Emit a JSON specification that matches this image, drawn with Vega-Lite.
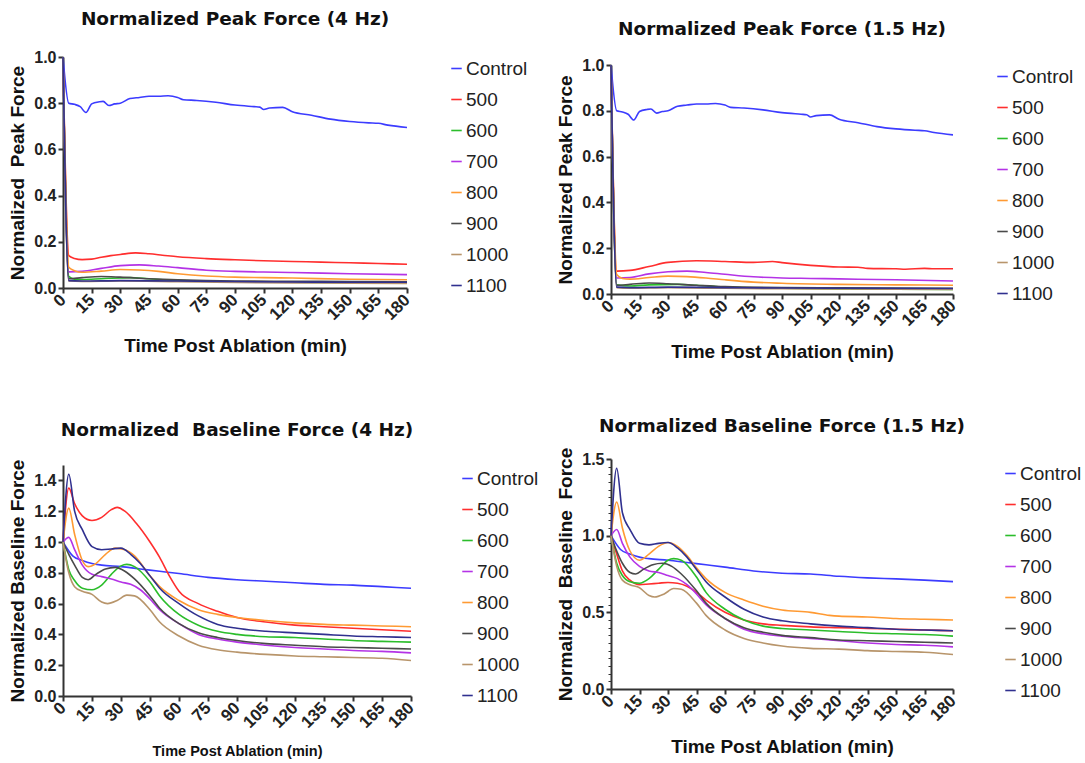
{
"$schema": "https://vega.github.io/schema/vega-lite/v6.json",
"padding": {"left": 8, "top": 2, "right": 0, "bottom": 0},
"config": {
 "view": {"stroke": null},
 "font": "Liberation Sans",
 "axis": {"grid": false, "domainColor": "#333", "domainWidth": 2, "tickColor": "#333", "tickWidth": 2, "tickSize": 5, "labelFont": "Liberation Sans", "labelFontWeight": "bold", "labelFontSize": 16, "labelColor": "#222", "labelPadding": 2, "titleFont": "Liberation Sans", "titleFontSize": 19, "titleFontWeight": "bold", "titleColor": "#111", "labelOverlap": false, "labelFlush": false},
 "axisX": {"labelAngle": -45, "labelAlign": "right", "labelBaseline": "middle", "labelPadding": 4, "labelFontSize": 17, "titlePadding": 14},
 "axisY": {"titlePadding": 6},
 "legend": {"title": null, "symbolType": "stroke", "symbolStrokeWidth": 2, "symbolSize": 110, "labelFontSize": 19, "labelFont": "Liberation Sans", "labelColor": "#222", "rowPadding": 11, "labelOffset": 0, "padding": 0},
 "title": {"font": "DejaVu Sans", "fontSize": 18.5, "fontWeight": "bold", "color": "#111", "anchor": "middle", "frame": "group"},
 "line": {"interpolate": "monotone", "strokeWidth": 1.6}
},
"datasets": {
 "pk4": [
  {"s":"Control","t":0,"v":1.0},{"s":"Control","t":3,"v":0.80},{"s":"Control","t":6,"v":0.795},{"s":"Control","t":9,"v":0.785},{"s":"Control","t":12,"v":0.76},{"s":"Control","t":15,"v":0.797},{"s":"Control","t":19,"v":0.806},{"s":"Control","t":21,"v":0.808},{"s":"Control","t":24,"v":0.79},{"s":"Control","t":27,"v":0.797},{"s":"Control","t":30,"v":0.80},{"s":"Control","t":35,"v":0.82},{"s":"Control","t":40,"v":0.825},{"s":"Control","t":45,"v":0.83},{"s":"Control","t":50,"v":0.83},{"s":"Control","t":55,"v":0.832},{"s":"Control","t":60,"v":0.825},{"s":"Control","t":63,"v":0.815},{"s":"Control","t":70,"v":0.812},{"s":"Control","t":80,"v":0.804},{"s":"Control","t":90,"v":0.792},{"s":"Control","t":100,"v":0.785},{"s":"Control","t":103,"v":0.783},{"s":"Control","t":105,"v":0.773},{"s":"Control","t":108,"v":0.779},{"s":"Control","t":115,"v":0.782},{"s":"Control","t":120,"v":0.763},{"s":"Control","t":130,"v":0.748},{"s":"Control","t":140,"v":0.731},{"s":"Control","t":150,"v":0.721},{"s":"Control","t":160,"v":0.715},{"s":"Control","t":165,"v":0.713},{"s":"Control","t":170,"v":0.705},{"s":"Control","t":180,"v":0.695},
  {"s":"500","t":0,"v":1.0},{"s":"500","t":3,"v":0.14},{"s":"500","t":6,"v":0.128},{"s":"500","t":10,"v":0.123},{"s":"500","t":15,"v":0.125},{"s":"500","t":20,"v":0.133},{"s":"500","t":25,"v":0.14},{"s":"500","t":30,"v":0.145},{"s":"500","t":38,"v":0.152},{"s":"500","t":45,"v":0.148},{"s":"500","t":52,"v":0.142},{"s":"500","t":60,"v":0.135},{"s":"500","t":75,"v":0.127},{"s":"500","t":90,"v":0.122},{"s":"500","t":105,"v":0.118},{"s":"500","t":120,"v":0.115},{"s":"500","t":135,"v":0.112},{"s":"500","t":150,"v":0.109},{"s":"500","t":165,"v":0.106},{"s":"500","t":180,"v":0.103},
  {"s":"600","t":0,"v":1.0},{"s":"600","t":3,"v":0.05},{"s":"600","t":6,"v":0.038},{"s":"600","t":10,"v":0.037},{"s":"600","t":20,"v":0.04},{"s":"600","t":35,"v":0.045},{"s":"600","t":45,"v":0.04},{"s":"600","t":60,"v":0.033},{"s":"600","t":75,"v":0.029},{"s":"600","t":90,"v":0.027},{"s":"600","t":120,"v":0.025},{"s":"600","t":150,"v":0.023},{"s":"600","t":180,"v":0.022},
  {"s":"700","t":0,"v":1.0},{"s":"700","t":3,"v":0.07},{"s":"700","t":10,"v":0.072},{"s":"700","t":20,"v":0.085},{"s":"700","t":30,"v":0.097},{"s":"700","t":40,"v":0.1},{"s":"700","t":50,"v":0.095},{"s":"700","t":60,"v":0.088},{"s":"700","t":75,"v":0.077},{"s":"700","t":90,"v":0.072},{"s":"700","t":105,"v":0.069},{"s":"700","t":120,"v":0.067},{"s":"700","t":150,"v":0.062},{"s":"700","t":180,"v":0.058},
  {"s":"800","t":0,"v":1.0},{"s":"800","t":3,"v":0.09},{"s":"800","t":6,"v":0.075},{"s":"800","t":10,"v":0.068},{"s":"800","t":20,"v":0.073},{"s":"800","t":30,"v":0.08},{"s":"800","t":40,"v":0.078},{"s":"800","t":50,"v":0.072},{"s":"800","t":60,"v":0.062},{"s":"800","t":75,"v":0.052},{"s":"800","t":90,"v":0.047},{"s":"800","t":105,"v":0.045},{"s":"800","t":120,"v":0.043},{"s":"800","t":150,"v":0.038},{"s":"800","t":180,"v":0.036},
  {"s":"900","t":0,"v":1.0},{"s":"900","t":3,"v":0.04},{"s":"900","t":10,"v":0.045},{"s":"900","t":20,"v":0.05},{"s":"900","t":30,"v":0.047},{"s":"900","t":45,"v":0.04},{"s":"900","t":60,"v":0.035},{"s":"900","t":90,"v":0.03},{"s":"900","t":120,"v":0.029},{"s":"900","t":150,"v":0.028},{"s":"900","t":180,"v":0.027},
  {"s":"1000","t":0,"v":1.0},{"s":"1000","t":3,"v":0.03},{"s":"1000","t":10,"v":0.028},{"s":"1000","t":30,"v":0.03},{"s":"1000","t":60,"v":0.027},{"s":"1000","t":90,"v":0.024},{"s":"1000","t":120,"v":0.022},{"s":"1000","t":150,"v":0.021},{"s":"1000","t":180,"v":0.02},
  {"s":"1100","t":0,"v":1.0},{"s":"1100","t":3,"v":0.032},{"s":"1100","t":10,"v":0.03},{"s":"1100","t":30,"v":0.032},{"s":"1100","t":60,"v":0.03},{"s":"1100","t":90,"v":0.028},{"s":"1100","t":120,"v":0.026},{"s":"1100","t":150,"v":0.025},{"s":"1100","t":180,"v":0.025}
 ],
 "pk15": [
  {"s":"Control","t":0,"v":1.0},{"s":"Control","t":3,"v":0.80},{"s":"Control","t":6,"v":0.795},{"s":"Control","t":9,"v":0.785},{"s":"Control","t":12,"v":0.76},{"s":"Control","t":15,"v":0.797},{"s":"Control","t":19,"v":0.806},{"s":"Control","t":21,"v":0.808},{"s":"Control","t":24,"v":0.79},{"s":"Control","t":27,"v":0.797},{"s":"Control","t":30,"v":0.80},{"s":"Control","t":35,"v":0.82},{"s":"Control","t":40,"v":0.825},{"s":"Control","t":45,"v":0.83},{"s":"Control","t":50,"v":0.83},{"s":"Control","t":55,"v":0.832},{"s":"Control","t":60,"v":0.825},{"s":"Control","t":63,"v":0.815},{"s":"Control","t":70,"v":0.812},{"s":"Control","t":80,"v":0.804},{"s":"Control","t":90,"v":0.792},{"s":"Control","t":100,"v":0.785},{"s":"Control","t":103,"v":0.783},{"s":"Control","t":105,"v":0.773},{"s":"Control","t":108,"v":0.779},{"s":"Control","t":115,"v":0.782},{"s":"Control","t":120,"v":0.763},{"s":"Control","t":130,"v":0.748},{"s":"Control","t":140,"v":0.731},{"s":"Control","t":150,"v":0.721},{"s":"Control","t":160,"v":0.715},{"s":"Control","t":165,"v":0.713},{"s":"Control","t":170,"v":0.705},{"s":"Control","t":180,"v":0.695},
  {"s":"500","t":0,"v":1.0},{"s":"500","t":3,"v":0.10},{"s":"500","t":10,"v":0.103},{"s":"500","t":20,"v":0.12},{"s":"500","t":30,"v":0.138},{"s":"500","t":45,"v":0.145},{"s":"500","t":60,"v":0.142},{"s":"500","t":75,"v":0.138},{"s":"500","t":85,"v":0.142},{"s":"500","t":90,"v":0.137},{"s":"500","t":105,"v":0.125},{"s":"500","t":120,"v":0.118},{"s":"500","t":130,"v":0.117},{"s":"500","t":135,"v":0.112},{"s":"500","t":150,"v":0.11},{"s":"500","t":155,"v":0.108},{"s":"500","t":165,"v":0.112},{"s":"500","t":170,"v":0.11},{"s":"500","t":180,"v":0.11},
  {"s":"600","t":0,"v":1.0},{"s":"600","t":3,"v":0.04},{"s":"600","t":10,"v":0.035},{"s":"600","t":20,"v":0.04},{"s":"600","t":35,"v":0.042},{"s":"600","t":45,"v":0.038},{"s":"600","t":60,"v":0.03},{"s":"600","t":90,"v":0.025},{"s":"600","t":120,"v":0.022},{"s":"600","t":180,"v":0.02},
  {"s":"700","t":0,"v":1.0},{"s":"700","t":3,"v":0.07},{"s":"700","t":10,"v":0.072},{"s":"700","t":20,"v":0.088},{"s":"700","t":30,"v":0.097},{"s":"700","t":40,"v":0.1},{"s":"700","t":50,"v":0.094},{"s":"700","t":60,"v":0.086},{"s":"700","t":75,"v":0.075},{"s":"700","t":90,"v":0.07},{"s":"700","t":105,"v":0.068},{"s":"700","t":120,"v":0.066},{"s":"700","t":150,"v":0.062},{"s":"700","t":180,"v":0.057},
  {"s":"800","t":0,"v":1.0},{"s":"800","t":3,"v":0.085},{"s":"800","t":6,"v":0.068},{"s":"800","t":10,"v":0.065},{"s":"800","t":20,"v":0.072},{"s":"800","t":30,"v":0.078},{"s":"800","t":40,"v":0.076},{"s":"800","t":50,"v":0.07},{"s":"800","t":60,"v":0.062},{"s":"800","t":75,"v":0.052},{"s":"800","t":90,"v":0.047},{"s":"800","t":120,"v":0.042},{"s":"800","t":150,"v":0.04},{"s":"800","t":180,"v":0.038},
  {"s":"900","t":0,"v":1.0},{"s":"900","t":3,"v":0.038},{"s":"900","t":10,"v":0.042},{"s":"900","t":20,"v":0.048},{"s":"900","t":30,"v":0.045},{"s":"900","t":45,"v":0.038},{"s":"900","t":60,"v":0.032},{"s":"900","t":90,"v":0.028},{"s":"900","t":120,"v":0.027},{"s":"900","t":180,"v":0.025},
  {"s":"1000","t":0,"v":1.0},{"s":"1000","t":3,"v":0.028},{"s":"1000","t":10,"v":0.025},{"s":"1000","t":30,"v":0.027},{"s":"1000","t":60,"v":0.025},{"s":"1000","t":90,"v":0.023},{"s":"1000","t":120,"v":0.022},{"s":"1000","t":180,"v":0.02},
  {"s":"1100","t":0,"v":1.0},{"s":"1100","t":3,"v":0.03},{"s":"1100","t":10,"v":0.028},{"s":"1100","t":30,"v":0.03},{"s":"1100","t":60,"v":0.028},{"s":"1100","t":90,"v":0.026},{"s":"1100","t":120,"v":0.025},{"s":"1100","t":180,"v":0.024}
 ],
 "bl4": [
  {"s":"Control","t":0,"v":1.0},{"s":"Control","t":5,"v":0.91},{"s":"Control","t":10,"v":0.88},{"s":"Control","t":15,"v":0.86},{"s":"Control","t":20,"v":0.85},{"s":"Control","t":30,"v":0.84},{"s":"Control","t":40,"v":0.825},{"s":"Control","t":50,"v":0.81},{"s":"Control","t":60,"v":0.795},{"s":"Control","t":75,"v":0.77},{"s":"Control","t":90,"v":0.755},{"s":"Control","t":105,"v":0.745},{"s":"Control","t":120,"v":0.735},{"s":"Control","t":135,"v":0.725},{"s":"Control","t":150,"v":0.72},{"s":"Control","t":165,"v":0.71},{"s":"Control","t":180,"v":0.70},
  {"s":"500","t":0,"v":1.0},{"s":"500","t":3,"v":1.35},{"s":"500","t":6,"v":1.25},{"s":"500","t":10,"v":1.17},{"s":"500","t":15,"v":1.14},{"s":"500","t":20,"v":1.16},{"s":"500","t":25,"v":1.21},{"s":"500","t":28,"v":1.225},{"s":"500","t":32,"v":1.2},{"s":"500","t":38,"v":1.12},{"s":"500","t":45,"v":1.0},{"s":"500","t":50,"v":0.9},{"s":"500","t":55,"v":0.78},{"s":"500","t":60,"v":0.68},{"s":"500","t":70,"v":0.6},{"s":"500","t":80,"v":0.55},{"s":"500","t":90,"v":0.51},{"s":"500","t":105,"v":0.48},{"s":"500","t":120,"v":0.46},{"s":"500","t":135,"v":0.45},{"s":"500","t":150,"v":0.44},{"s":"500","t":165,"v":0.43},{"s":"500","t":180,"v":0.42},
  {"s":"600","t":0,"v":1.0},{"s":"600","t":3,"v":0.82},{"s":"600","t":6,"v":0.75},{"s":"600","t":10,"v":0.70},{"s":"600","t":15,"v":0.69},{"s":"600","t":20,"v":0.72},{"s":"600","t":25,"v":0.79},{"s":"600","t":30,"v":0.845},{"s":"600","t":33,"v":0.855},{"s":"600","t":37,"v":0.84},{"s":"600","t":45,"v":0.74},{"s":"600","t":50,"v":0.65},{"s":"600","t":60,"v":0.53},{"s":"600","t":70,"v":0.46},{"s":"600","t":80,"v":0.42},{"s":"600","t":90,"v":0.40},{"s":"600","t":105,"v":0.385},{"s":"600","t":120,"v":0.38},{"s":"600","t":135,"v":0.37},{"s":"600","t":150,"v":0.36},{"s":"600","t":165,"v":0.355},{"s":"600","t":180,"v":0.35},
  {"s":"700","t":0,"v":1.0},{"s":"700","t":3,"v":1.03},{"s":"700","t":6,"v":0.95},{"s":"700","t":10,"v":0.85},{"s":"700","t":15,"v":0.79},{"s":"700","t":20,"v":0.775},{"s":"700","t":25,"v":0.76},{"s":"700","t":30,"v":0.74},{"s":"700","t":35,"v":0.725},{"s":"700","t":40,"v":0.69},{"s":"700","t":45,"v":0.63},{"s":"700","t":50,"v":0.56},{"s":"700","t":60,"v":0.47},{"s":"700","t":70,"v":0.40},{"s":"700","t":80,"v":0.37},{"s":"700","t":90,"v":0.35},{"s":"700","t":105,"v":0.33},{"s":"700","t":120,"v":0.315},{"s":"700","t":135,"v":0.305},{"s":"700","t":150,"v":0.295},{"s":"700","t":165,"v":0.29},{"s":"700","t":180,"v":0.28},
  {"s":"800","t":0,"v":1.0},{"s":"800","t":3,"v":1.22},{"s":"800","t":6,"v":1.05},{"s":"800","t":10,"v":0.88},{"s":"800","t":13,"v":0.84},{"s":"800","t":17,"v":0.86},{"s":"800","t":22,"v":0.92},{"s":"800","t":27,"v":0.96},{"s":"800","t":32,"v":0.95},{"s":"800","t":37,"v":0.91},{"s":"800","t":45,"v":0.78},{"s":"800","t":50,"v":0.71},{"s":"800","t":60,"v":0.62},{"s":"800","t":70,"v":0.56},{"s":"800","t":80,"v":0.53},{"s":"800","t":90,"v":0.51},{"s":"800","t":105,"v":0.49},{"s":"800","t":120,"v":0.475},{"s":"800","t":135,"v":0.465},{"s":"800","t":150,"v":0.46},{"s":"800","t":165,"v":0.455},{"s":"800","t":180,"v":0.45},
  {"s":"900","t":0,"v":1.0},{"s":"900","t":3,"v":0.92},{"s":"900","t":6,"v":0.85},{"s":"900","t":10,"v":0.77},{"s":"900","t":13,"v":0.755},{"s":"900","t":17,"v":0.79},{"s":"900","t":22,"v":0.825},{"s":"900","t":27,"v":0.835},{"s":"900","t":32,"v":0.81},{"s":"900","t":37,"v":0.76},{"s":"900","t":45,"v":0.65},{"s":"900","t":50,"v":0.57},{"s":"900","t":60,"v":0.47},{"s":"900","t":70,"v":0.41},{"s":"900","t":80,"v":0.38},{"s":"900","t":90,"v":0.36},{"s":"900","t":105,"v":0.34},{"s":"900","t":120,"v":0.33},{"s":"900","t":135,"v":0.32},{"s":"900","t":150,"v":0.315},{"s":"900","t":165,"v":0.31},{"s":"900","t":180,"v":0.305},
  {"s":"1000","t":0,"v":1.0},{"s":"1000","t":3,"v":0.80},{"s":"1000","t":6,"v":0.71},{"s":"1000","t":10,"v":0.68},{"s":"1000","t":15,"v":0.66},{"s":"1000","t":20,"v":0.61},{"s":"1000","t":23,"v":0.60},{"s":"1000","t":28,"v":0.62},{"s":"1000","t":33,"v":0.655},{"s":"1000","t":37,"v":0.65},{"s":"1000","t":45,"v":0.56},{"s":"1000","t":50,"v":0.48},{"s":"1000","t":60,"v":0.39},{"s":"1000","t":70,"v":0.33},{"s":"1000","t":80,"v":0.30},{"s":"1000","t":90,"v":0.285},{"s":"1000","t":105,"v":0.27},{"s":"1000","t":120,"v":0.26},{"s":"1000","t":135,"v":0.255},{"s":"1000","t":150,"v":0.25},{"s":"1000","t":165,"v":0.245},{"s":"1000","t":180,"v":0.23},
  {"s":"1100","t":0,"v":1.0},{"s":"1100","t":3,"v":1.44},{"s":"1100","t":6,"v":1.2},{"s":"1100","t":10,"v":1.08},{"s":"1100","t":15,"v":0.97},{"s":"1100","t":20,"v":0.95},{"s":"1100","t":25,"v":0.955},{"s":"1100","t":30,"v":0.96},{"s":"1100","t":35,"v":0.92},{"s":"1100","t":40,"v":0.86},{"s":"1100","t":45,"v":0.78},{"s":"1100","t":50,"v":0.70},{"s":"1100","t":60,"v":0.60},{"s":"1100","t":70,"v":0.52},{"s":"1100","t":80,"v":0.465},{"s":"1100","t":90,"v":0.44},{"s":"1100","t":105,"v":0.42},{"s":"1100","t":120,"v":0.41},{"s":"1100","t":135,"v":0.40},{"s":"1100","t":150,"v":0.39},{"s":"1100","t":165,"v":0.385},{"s":"1100","t":180,"v":0.38}
 ],
 "bl15": [
  {"s":"Control","t":0,"v":1.0},{"s":"Control","t":5,"v":0.91},{"s":"Control","t":10,"v":0.88},{"s":"Control","t":15,"v":0.86},{"s":"Control","t":20,"v":0.85},{"s":"Control","t":30,"v":0.84},{"s":"Control","t":40,"v":0.825},{"s":"Control","t":50,"v":0.81},{"s":"Control","t":60,"v":0.795},{"s":"Control","t":75,"v":0.77},{"s":"Control","t":90,"v":0.755},{"s":"Control","t":105,"v":0.75},{"s":"Control","t":120,"v":0.735},{"s":"Control","t":135,"v":0.725},{"s":"Control","t":150,"v":0.718},{"s":"Control","t":165,"v":0.71},{"s":"Control","t":180,"v":0.70},
  {"s":"500","t":0,"v":1.0},{"s":"500","t":3,"v":0.88},{"s":"500","t":6,"v":0.77},{"s":"500","t":10,"v":0.71},{"s":"500","t":15,"v":0.68},{"s":"500","t":20,"v":0.685},{"s":"500","t":25,"v":0.69},{"s":"500","t":30,"v":0.695},{"s":"500","t":35,"v":0.69},{"s":"500","t":40,"v":0.67},{"s":"500","t":45,"v":0.63},{"s":"500","t":50,"v":0.58},{"s":"500","t":60,"v":0.50},{"s":"500","t":70,"v":0.45},{"s":"500","t":80,"v":0.425},{"s":"500","t":90,"v":0.415},{"s":"500","t":105,"v":0.405},{"s":"500","t":120,"v":0.40},{"s":"500","t":135,"v":0.395},{"s":"500","t":150,"v":0.39},{"s":"500","t":165,"v":0.385},{"s":"500","t":180,"v":0.38},
  {"s":"600","t":0,"v":1.0},{"s":"600","t":3,"v":0.82},{"s":"600","t":6,"v":0.74},{"s":"600","t":10,"v":0.70},{"s":"600","t":15,"v":0.69},{"s":"600","t":20,"v":0.72},{"s":"600","t":25,"v":0.78},{"s":"600","t":30,"v":0.84},{"s":"600","t":33,"v":0.85},{"s":"600","t":37,"v":0.84},{"s":"600","t":45,"v":0.73},{"s":"600","t":50,"v":0.63},{"s":"600","t":60,"v":0.52},{"s":"600","t":70,"v":0.45},{"s":"600","t":80,"v":0.41},{"s":"600","t":90,"v":0.395},{"s":"600","t":105,"v":0.385},{"s":"600","t":120,"v":0.375},{"s":"600","t":135,"v":0.365},{"s":"600","t":150,"v":0.36},{"s":"600","t":165,"v":0.355},{"s":"600","t":180,"v":0.345},
  {"s":"700","t":0,"v":1.0},{"s":"700","t":3,"v":1.04},{"s":"700","t":6,"v":0.95},{"s":"700","t":10,"v":0.86},{"s":"700","t":15,"v":0.80},{"s":"700","t":20,"v":0.77},{"s":"700","t":25,"v":0.76},{"s":"700","t":30,"v":0.74},{"s":"700","t":35,"v":0.72},{"s":"700","t":40,"v":0.68},{"s":"700","t":45,"v":0.62},{"s":"700","t":50,"v":0.55},{"s":"700","t":60,"v":0.46},{"s":"700","t":70,"v":0.39},{"s":"700","t":80,"v":0.36},{"s":"700","t":90,"v":0.345},{"s":"700","t":105,"v":0.33},{"s":"700","t":120,"v":0.315},{"s":"700","t":135,"v":0.30},{"s":"700","t":150,"v":0.29},{"s":"700","t":165,"v":0.285},{"s":"700","t":180,"v":0.275},
  {"s":"800","t":0,"v":1.0},{"s":"800","t":3,"v":1.22},{"s":"800","t":6,"v":1.05},{"s":"800","t":10,"v":0.9},{"s":"800","t":15,"v":0.84},{"s":"800","t":20,"v":0.88},{"s":"800","t":25,"v":0.93},{"s":"800","t":30,"v":0.955},{"s":"800","t":35,"v":0.93},{"s":"800","t":40,"v":0.87},{"s":"800","t":45,"v":0.79},{"s":"800","t":50,"v":0.72},{"s":"800","t":60,"v":0.63},{"s":"800","t":70,"v":0.58},{"s":"800","t":80,"v":0.54},{"s":"800","t":90,"v":0.515},{"s":"800","t":105,"v":0.50},{"s":"800","t":115,"v":0.48},{"s":"800","t":120,"v":0.475},{"s":"800","t":135,"v":0.47},{"s":"800","t":150,"v":0.46},{"s":"800","t":165,"v":0.455},{"s":"800","t":180,"v":0.45},
  {"s":"900","t":0,"v":1.0},{"s":"900","t":3,"v":0.90},{"s":"900","t":6,"v":0.82},{"s":"900","t":10,"v":0.76},{"s":"900","t":13,"v":0.75},{"s":"900","t":17,"v":0.78},{"s":"900","t":22,"v":0.81},{"s":"900","t":27,"v":0.82},{"s":"900","t":32,"v":0.80},{"s":"900","t":37,"v":0.75},{"s":"900","t":45,"v":0.64},{"s":"900","t":50,"v":0.56},{"s":"900","t":60,"v":0.46},{"s":"900","t":70,"v":0.40},{"s":"900","t":80,"v":0.37},{"s":"900","t":90,"v":0.35},{"s":"900","t":105,"v":0.335},{"s":"900","t":120,"v":0.32},{"s":"900","t":135,"v":0.315},{"s":"900","t":150,"v":0.31},{"s":"900","t":165,"v":0.305},{"s":"900","t":180,"v":0.30},
  {"s":"1000","t":0,"v":1.0},{"s":"1000","t":3,"v":0.80},{"s":"1000","t":6,"v":0.71},{"s":"1000","t":10,"v":0.68},{"s":"1000","t":15,"v":0.66},{"s":"1000","t":20,"v":0.61},{"s":"1000","t":23,"v":0.60},{"s":"1000","t":28,"v":0.62},{"s":"1000","t":33,"v":0.655},{"s":"1000","t":37,"v":0.65},{"s":"1000","t":45,"v":0.56},{"s":"1000","t":50,"v":0.48},{"s":"1000","t":60,"v":0.385},{"s":"1000","t":70,"v":0.33},{"s":"1000","t":80,"v":0.30},{"s":"1000","t":90,"v":0.28},{"s":"1000","t":105,"v":0.265},{"s":"1000","t":120,"v":0.26},{"s":"1000","t":135,"v":0.25},{"s":"1000","t":150,"v":0.245},{"s":"1000","t":165,"v":0.24},{"s":"1000","t":180,"v":0.225},
  {"s":"1100","t":0,"v":1.0},{"s":"1100","t":3,"v":1.44},{"s":"1100","t":6,"v":1.15},{"s":"1100","t":10,"v":1.04},{"s":"1100","t":15,"v":0.95},{"s":"1100","t":20,"v":0.94},{"s":"1100","t":25,"v":0.95},{"s":"1100","t":30,"v":0.955},{"s":"1100","t":35,"v":0.92},{"s":"1100","t":40,"v":0.86},{"s":"1100","t":45,"v":0.78},{"s":"1100","t":50,"v":0.70},{"s":"1100","t":60,"v":0.60},{"s":"1100","t":70,"v":0.52},{"s":"1100","t":80,"v":0.47},{"s":"1100","t":90,"v":0.445},{"s":"1100","t":105,"v":0.425},{"s":"1100","t":120,"v":0.41},{"s":"1100","t":135,"v":0.40},{"s":"1100","t":150,"v":0.39},{"s":"1100","t":165,"v":0.385},{"s":"1100","t":180,"v":0.38}
 ]
},
"hconcat": [
 {
  "spacing": 0,
  "resolve": {"scale": {"color": "independent"}, "legend": {"color": "independent"}},
  "vconcat": [
   {"width": 10, "height": 1, "data": {"values": [{"a": 0}]}, "mark": {"type": "point", "opacity": 0}, "encoding": {}},
   {
    "spacing": 64,
    "resolve": {"scale": {"color": "independent"}, "legend": {"color": "independent"}},
    "vconcat": [
     {
      "width": 344, "height": 231,
      "title": {"text": "Normalized Peak Force (4 Hz)", "offset": 21},
      "data": {"name": "pk4"},
      "mark": "line",
      "encoding": {
       "x": {"field": "t", "type": "quantitative", "scale": {"domain": [0, 180], "nice": false}, "axis": {"values": [0,15,30,45,60,75,90,105,120,135,150,165,180], "title": "Time Post Ablation (min)"}},
       "y": {"field": "v", "type": "quantitative", "scale": {"domain": [0, 1]}, "axis": {"values": [0,0.2,0.4,0.6,0.8,1.0], "format": ".1f", "title": "Normalized\u00a0 Peak Force"}},
       "color": {"field": "s", "type": "nominal", "scale": {"domain": ["Control","500","600","700","800","900","1000","1100"], "range": ["#3c3cff","#ff2e2e","#2bbd2b","#b433e6","#ff9a33","#4a4a4a","#b8956b","#30308f"]}, "legend": {"orient": "none", "legendX": 384, "legendY": 2}}
      }
     },
     {
      "width": 348, "height": 231,
      "title": {"text": "Normalized\u00a0 Baseline Force (4 Hz)", "offset": 20},
      "data": {"name": "bl4"},
      "mark": "line",
      "encoding": {
       "x": {"field": "t", "type": "quantitative", "scale": {"domain": [0, 180], "nice": false}, "axis": {"values": [0,15,30,45,60,75,90,105,120,135,150,165,180], "title": "Time Post Ablation (min)", "titleFontSize": 14.5, "titlePadding": 14}},
       "y": {"field": "v", "type": "quantitative", "scale": {"domain": [0, 1.5], "nice": false}, "axis": {"values": [0,0.2,0.4,0.6,0.8,1.0,1.2,1.4], "format": ".1f", "title": "Normalized Baseline Force"}},
       "color": {"field": "s", "type": "nominal", "scale": {"domain": ["Control","500","600","700","800","900","1000","1100"], "range": ["#3c3cff","#ff2e2e","#2bbd2b","#b433e6","#ff9a33","#4a4a4a","#b8956b","#30308f"]}, "legend": {"orient": "none", "legendX": 395, "legendY": 4}}
      }
     }
    ]
   }
  ]
 },
 {
  "spacing": 0,
  "resolve": {"scale": {"color": "independent"}, "legend": {"color": "independent"}},
  "vconcat": [
   {"width": 10, "height": 14, "data": {"values": [{"a": 0}]}, "mark": {"type": "point", "opacity": 0}, "encoding": {}},
   {
    "spacing": 54,
    "resolve": {"scale": {"color": "independent"}, "legend": {"color": "independent"}},
    "vconcat": [
     {
      "width": 342, "height": 229,
      "title": {"text": "Normalized Peak Force (1.5 Hz)", "offset": 19},
      "data": {"name": "pk15"},
      "mark": "line",
      "encoding": {
       "x": {"field": "t", "type": "quantitative", "scale": {"domain": [0, 180], "nice": false}, "axis": {"values": [0,15,30,45,60,75,90,105,120,135,150,165,180], "title": "Time Post Ablation (min)"}},
       "y": {"field": "v", "type": "quantitative", "scale": {"domain": [0, 1]}, "axis": {"values": [0,0.2,0.4,0.6,0.8,1.0], "format": ".1f", "title": "Normalized Peak Force"}},
       "color": {"field": "s", "type": "nominal", "scale": {"domain": ["Control","500","600","700","800","900","1000","1100"], "range": ["#3c3cff","#ff2e2e","#2bbd2b","#b433e6","#ff9a33","#4a4a4a","#b8956b","#30308f"]}, "legend": {"orient": "none", "legendX": 382, "legendY": 2}}
      }
     },
     {
      "width": 342, "height": 230,
      "title": {"text": "Normalized Baseline Force (1.5 Hz)", "offset": 12},
      "data": {"name": "bl15"},
      "mark": "line",
      "encoding": {
       "x": {"field": "t", "type": "quantitative", "scale": {"domain": [0, 180], "nice": false}, "axis": {"values": [0,15,30,45,60,75,90,105,120,135,150,165,180], "title": "Time Post Ablation (min)"}},
       "y": {"field": "v", "type": "quantitative", "scale": {"domain": [0, 1.5], "nice": false}, "axis": {"values": [0,0.05,0.1,0.15,0.2,0.25,0.3,0.35,0.4,0.45,0.5,0.55,0.6,0.65,0.7,0.75,0.8,0.85,0.9,0.95,1.0,1.05,1.1,1.15,1.2,1.25,1.3,1.35,1.4,1.45,1.5], "labelExpr": "abs(datum.value*2 - round(datum.value*2)) < 0.001 ? format(datum.value, '.1f') : ''", "tickSize": {"condition": {"test": "abs(datum.value*2 - round(datum.value*2)) < 0.001", "value": 5}, "value": 3}, "tickWidth": {"condition": {"test": "abs(datum.value*2 - round(datum.value*2)) < 0.001", "value": 2}, "value": 1}, "title": "Normalized\u00a0 Baseline\u00a0 Force"}},
       "color": {"field": "s", "type": "nominal", "scale": {"domain": ["Control","500","600","700","800","900","1000","1100"], "range": ["#3c3cff","#ff2e2e","#2bbd2b","#b433e6","#ff9a33","#4a4a4a","#b8956b","#30308f"]}, "legend": {"orient": "none", "legendX": 390, "legendY": 5}}
      }
     }
    ]
   }
  ]
 }
],
"spacing": 17,
"resolve": {"scale": {"color": "independent"}, "legend": {"color": "independent"}}
}
